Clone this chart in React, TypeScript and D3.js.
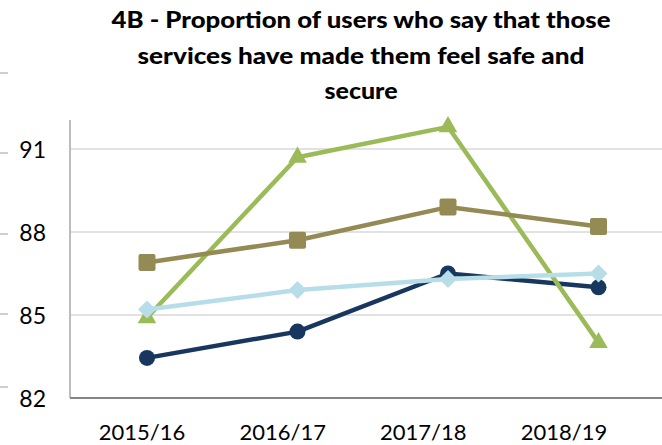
import React from "react";
import * as d3 from "d3";

const categories = ["2015/16", "2016/17", "2017/18", "2018/19"];
const navySeries = [83.45, 84.4, 86.5, 86.0];
const brownSeries = [86.9, 87.7, 88.9, 88.2];
const greenSeries = [84.9, 90.7, 91.8, 84.0];
const blueSeries = [85.2, 85.9, 86.3, 86.5];
const yTicks = [82, 85, 88, 91];
const titleLines = [
  "4B - Proportion of users who say that those",
  "services have made them feel safe and",
  "secure",
];

const W = 662;
const H = 445;

export default function App() {
  const x = d3.scalePoint<string>().domain(categories).range([147, 598.5]);
  const xLab = d3.scalePoint<string>().domain(categories).range([142, 564]);
  const y = d3.scaleLinear().domain([82, 92]).range([398, 121.3]);
  const line = d3
    .line<number>()
    .x((_, i) => x(categories[i]) as number)
    .y((d) => y(d));

  const series = [
    { name: "navy", data: navySeries, color: "#17375E", marker: "circle" },
    { name: "green", data: greenSeries, color: "#9BBB59", marker: "triangle" },
    { name: "brown", data: brownSeries, color: "#948A54", marker: "square" },
    { name: "blue", data: blueSeries, color: "#B7DEE8", marker: "diamond" },
  ];

  const marker = (type: string, cx: number, cy: number, color: string, key: string) => {
    if (type === "circle") return <circle key={key} cx={cx} cy={cy} r={8} fill={color} />;
    if (type === "square")
      return <rect key={key} x={cx - 8.5} y={cy - 8.5} width={17} height={17} rx={2} fill={color} />;
    if (type === "triangle")
      return <path key={key} d={d3.symbol(d3.symbolTriangle, 150)()!} transform={`translate(${cx},${cy})`} fill={color} />;
    return (
      <path
        key={key}
        d={`M${cx},${cy - 9} L${cx + 9},${cy} L${cx},${cy + 9} L${cx - 9},${cy} Z`}
        fill={color}
      />
    );
  };

  const titleWidths = [499, 447, 73];

  return (
    <svg width={W} height={H} style={{ position: "absolute", left: 0, top: 0, fontFamily: "Lato, 'Open Sans', sans-serif" }}>
      <rect width={W} height={H} fill="#fff" />
      {[73, 153, 234, 314, 387].map((v) => (
        <line key={v} x1={0} x2={8} y1={v} y2={v} stroke="#BFBFBF" strokeWidth={1.5} />
      ))}
      {titleLines.map((t, i) => (
        <text
          key={i}
          x={361}
          y={28 + i * 35.5}
          textAnchor="middle"
          fontWeight={900}
          fontSize={22}
          fill="#000"
          textLength={titleWidths[i]}
          lengthAdjust="spacingAndGlyphs"
        >
          {t}
        </text>
      ))}
      {yTicks.filter((t) => t !== 82).map((t) => (
        <line key={t} x1={71} x2={W} y1={y(t)} y2={y(t)} stroke="#D9D9D9" strokeWidth={1.5} />
      ))}
      <line x1={70} x2={70} y1={120} y2={398} stroke="#A6A6A6" strokeWidth={1.5} />
      <line x1={70} x2={W} y1={398} y2={398} stroke="#868686" strokeWidth={2} />
      {yTicks.map((t) => (
        <text key={t} x={46} y={y(t) + 3} textAnchor="end" dominantBaseline="middle" fontSize={23} fill="#000">
          {t}
        </text>
      ))}
      {categories.map((c) => (
        <text key={c} x={xLab(c)} y={440} textAnchor="middle" fontSize={22} fill="#000">
          {c}
        </text>
      ))}
      {series.map((s) => (
        <g key={s.name}>
          <path d={line(s.data)!} fill="none" stroke={s.color} strokeWidth={4.5} strokeLinejoin="round" />
          {s.data.map((v, i) => marker(s.marker, x(categories[i]) as number, y(v), s.color, s.name + i))}
        </g>
      ))}
    </svg>
  );
}
